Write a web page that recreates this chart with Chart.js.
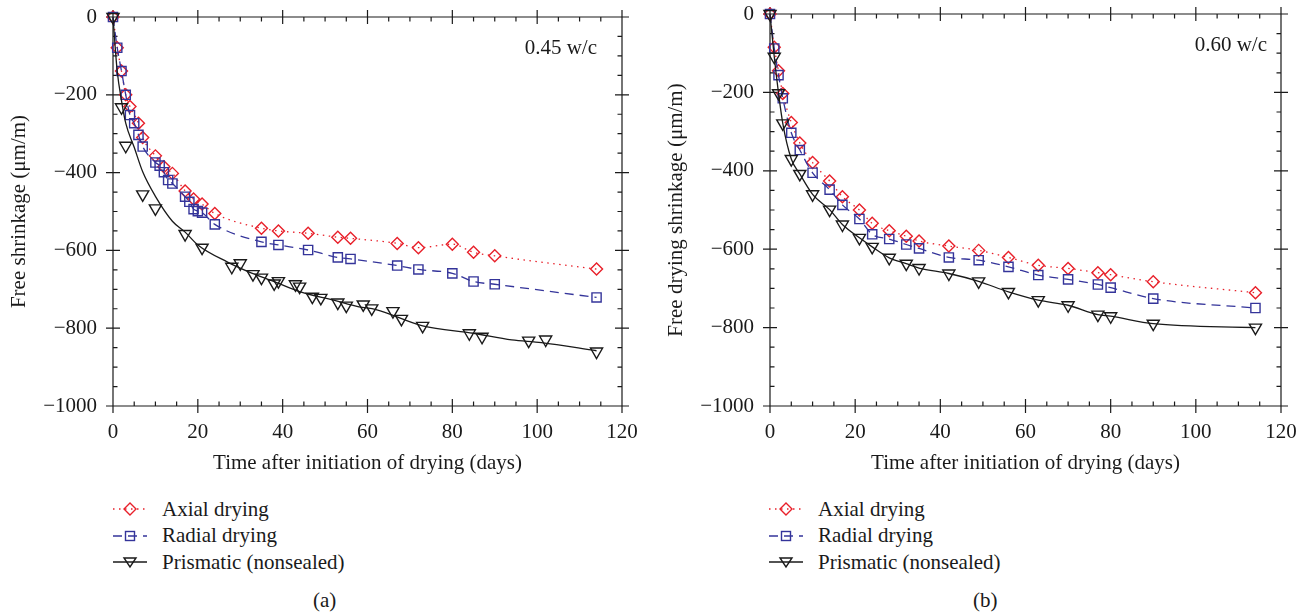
<!DOCTYPE html>
<html>
<head>
<meta charset="utf-8">
<script src="https://cdn.jsdelivr.net/npm/chart.js@4.4.0/dist/chart.umd.min.js"></script>
<style>
body { margin:0; background:#fff; width:1306px; height:616px; position:relative; overflow:hidden; font-family:"Liberation Serif", serif; color:#1a1a1a; }
canvas { position:absolute; top:0; }
#chartA { left:0; }
#chartB { left:650px; }
.legend { position:absolute; font-size:21px; }
.legend div { height:26.5px; display:flex; align-items:center; }
.legend svg { margin-right:14px; }
.caption { position:absolute; top:588px; font-size:21px; }
</style>
</head>
<body>
<canvas id="chartA" width="650" height="480"></canvas>
<canvas id="chartB" width="656" height="480"></canvas>
<div class="legend" id="legendA" style="left:112px; top:496px"></div>
<div class="legend" id="legendB" style="left:768px; top:496px"></div>
<div class="caption" style="left:313px">(a)</div>
<div class="caption" style="left:973px">(b)</div>
<script>
// (a) 0.45 w/c
const axialDaysA = [0, 1, 2, 3, 4, 6, 7, 10, 12, 14, 17, 19, 21, 24, 35, 39, 46, 53, 56, 67, 72, 80, 85, 90, 114];
const axialA = [0, -79, -139, -200, -230, -273, -310, -357, -385, -402, -447, -468, -481, -505, -543, -550, -556, -566, -569, -582, -593, -584, -605, -614, -648];
const radialDaysA = [0, 1, 2, 3, 4, 5, 6, 7, 10, 11, 12, 13, 14, 17, 18, 19, 20, 21, 24, 35, 39, 46, 53, 56, 67, 72, 80, 85, 90, 114];
const radialA = [0, -79, -139, -200, -252, -273, -303, -333, -374, -382, -399, -419, -428, -462, -475, -494, -499, -503, -533, -578, -586, -599, -618, -622, -639, -649, -659, -680, -687, -721];
const prismDaysA = [0, 2, 3, 7, 10, 17, 21, 28, 30, 33, 35, 38, 39, 43, 44, 47, 49, 53, 55, 59, 61, 66, 68, 73, 84, 87, 98, 102, 114];
const prismA = [0, -232, -331, -456, -492, -558, -593, -642, -633, -661, -670, -685, -679, -687, -693, -719, -722, -734, -742, -739, -749, -756, -776, -794, -813, -822, -832, -829, -860];
// fitted curve through the prismatic data
const prismFitDaysA = [0, 0.5, 1, 2, 3, 5, 7, 10, 14, 17, 20, 27, 32, 38, 44, 52, 58, 62, 73, 85, 94, 101, 114];
const prismFitA = [0, -75, -140, -215, -273, -335, -398, -461, -525, -553, -586, -630, -655, -680, -706, -728, -745, -752, -794, -813, -830, -837, -858];

// (b) 0.60 w/c
const daysB = [0, 1, 2, 3, 5, 7, 10, 14, 17, 21, 24, 28, 32, 35, 42, 49, 56, 63, 70, 77, 80, 90, 114];
const axialB = [0, -85, -145, -203, -277, -329, -379, -426, -466, -500, -534, -553, -567, -579, -592, -603, -621, -641, -649, -660, -665, -683, -711];
const radialB = [0, -88, -156, -215, -303, -347, -405, -448, -487, -523, -562, -574, -588, -598, -621, -628, -645, -666, -677, -690, -698, -726, -750];
const prismB = [0, -109, -202, -279, -370, -408, -460, -499, -537, -571, -594, -622, -637, -648, -662, -682, -709, -730, -743, -767, -771, -790, -800];

const seriesNames = ['Axial drying', 'Radial drying', 'Prismatic (nonsealed)'];
const RED = '#e8202a', BLUE = '#34349a', BLACK = '#1a1a1a';
const FONT = { family: '"Liberation Serif", serif', size: 21 };

const pts = (xs, ys) => xs.map((x, i) => ({ x: x, y: ys[i] }));

function series(label, xs, ys, color, style, dash, line, markers) {
    return {
        label: label,
        data: pts(xs, ys),
        showLine: line,
        borderColor: color,
        backgroundColor: 'transparent',
        borderWidth: 1.3,
        borderDash: dash,
        cubicInterpolationMode: 'monotone',
        pointStyle: style,
        pointRotation: style === 'triangle' ? 180 : 0,
        pointRadius: markers ? (style === 'rectRot' ? 6 : style === 'rect' ? 6.5 : 7) : 0,
        pointBorderWidth: 1.4,
        pointBorderColor: color,
        pointBackgroundColor: 'transparent',
        clip: false
    };
}

// box frame with crossing major ticks and inward minor ticks, plus the w/c note
const frameTicks = {
    id: 'frameTicks',
    beforeDatasetsDraw(chart) {
        const { ctx, chartArea: a, scales: { x, y } } = chart;
        ctx.save();
        ctx.strokeStyle = BLACK;
        ctx.lineWidth = 1.2;
        ctx.beginPath();
        for (let v = 0; v <= 120; v += 5) {
            const px = x.getPixelForValue(v);
            const major = v % 20 === 0;
            const out = major ? 7 : 0, inn = major ? 7 : 4.5;
            ctx.moveTo(px, a.bottom + out); ctx.lineTo(px, a.bottom - inn);
            ctx.moveTo(px, a.top - out); ctx.lineTo(px, a.top + inn);
        }
        for (let v = -1000; v <= 0; v += 50) {
            const py = y.getPixelForValue(v);
            const major = v % 200 === 0;
            const out = major ? 7 : 0, inn = major ? 7 : 4.5;
            ctx.moveTo(a.left - out, py); ctx.lineTo(a.left + inn, py);
            ctx.moveTo(a.right + out, py); ctx.lineTo(a.right - inn, py);
        }
        ctx.rect(a.left, a.top, a.right - a.left, a.bottom - a.top);
        ctx.stroke();
        const o = chart.options.plugins.frameTicks;
        ctx.font = '21px "Liberation Serif", serif';
        ctx.fillStyle = BLACK;
        ctx.textAlign = 'right';
        ctx.textBaseline = 'middle';
        ctx.fillText(o.note, a.right - o.dx, a.top + o.dy);
        ctx.restore();
    }
};

function makeChart(id, datasets, yTitle, opts) {
    return new Chart(document.getElementById(id).getContext('2d'), {
        type: 'scatter',
        data: { datasets: datasets },
        plugins: [frameTicks],
        options: {
            responsive: false,
            animation: false,
            devicePixelRatio: 1,
            layout: { padding: { top: opts.top, right: opts.right, bottom: 0, left: 0 } },
            plugins: {
                legend: { display: false },
                tooltip: { enabled: false },
                frameTicks: { note: opts.note, dx: opts.noteDx, dy: 31 }
            },
            scales: {
                x: {
                    type: 'linear', min: 0, max: 120,
                    border: { display: false },
                    grid: { display: false, drawTicks: false },
                    ticks: { stepSize: 20, padding: 14, color: BLACK, font: FONT, maxRotation: 0, autoSkip: false },
                    title: { display: true, text: 'Time after initiation of drying (days)', color: BLACK, font: FONT, padding: { top: 0, bottom: 4 } },
                    afterFit(s) { s.height = 74; s.paddingLeft = 0; s.paddingRight = 0; }
                },
                y: {
                    type: 'linear', min: -1000, max: 0,
                    border: { display: false },
                    grid: { display: false, drawTicks: false },
                    ticks: {
                        stepSize: 200, padding: 16, color: BLACK, font: FONT, autoSkip: false,
                        callback: v => v < 0 ? '\u2212' + Math.abs(v) : String(v)
                    },
                    title: { display: true, text: yTitle, color: BLACK, font: FONT, padding: { top: opts.yTitlePad, bottom: 0 } },
                    afterFit(s) { s.width = opts.yWidth; s.paddingTop = 0; s.paddingBottom = 0; }
                }
            }
        }
    });
}

makeChart('chartA', [
    series(seriesNames[2], prismFitDaysA, prismFitA, BLACK, 'triangle', [], true, false),
    series(seriesNames[2], prismDaysA, prismA, BLACK, 'triangle', [], false, true),
    series(seriesNames[1], radialDaysA, radialA, BLUE, 'rect', [9, 6], true, true),
    series(seriesNames[0], axialDaysA, axialA, RED, 'rectRot', [1.5, 4.5], true, true)
], 'Free shrinkage (\u03bcm/m)', { top: 17, right: 28, yWidth: 113, yTitlePad: 7, note: '0.45 w/c', noteDx: 25 });

makeChart('chartB', [
    series(seriesNames[2], daysB, prismB, BLACK, 'triangle', [], true, true),
    series(seriesNames[1], daysB, radialB, BLUE, 'rect', [9, 6], true, true),
    series(seriesNames[0], daysB, axialB, RED, 'rectRot', [1.5, 4.5], true, true)
], 'Free drying shrinkage (\u03bcm/m)', { top: 14, right: 25, yWidth: 120, yTitlePad: 14, note: '0.60 w/c', noteDx: 14 });

// legends below each panel
const legendStyles = [
    { color: RED, dash: '1.5,4.5', marker: '<path d="M18 4 L24 10 L18 16 L12 10 Z"/>' },
    { color: BLUE, dash: '9,6', marker: '<rect x="13.5" y="5.5" width="9" height="9"/>' },
    { color: BLACK, dash: '', marker: '<path d="M12 6 L24 6 L18 15 Z"/>' }
];
function buildLegend(id) {
    const box = document.getElementById(id);
    seriesNames.forEach((name, i) => {
        const s = legendStyles[i];
        const row = document.createElement('div');
        row.innerHTML = '<svg width="36" height="20" viewBox="0 0 36 20">' +
            '<line x1="1" y1="10" x2="35" y2="10" stroke="' + s.color + '" stroke-width="1.3"' +
            (s.dash ? ' stroke-dasharray="' + s.dash + '"' : '') + '/>' +
            '<g fill="none" stroke="' + s.color + '" stroke-width="1.4">' + s.marker + '</g></svg>' +
            '<span>' + name + '</span>';
        box.appendChild(row);
    });
}
buildLegend('legendA');
buildLegend('legendB');
</script>
</body>
</html>
